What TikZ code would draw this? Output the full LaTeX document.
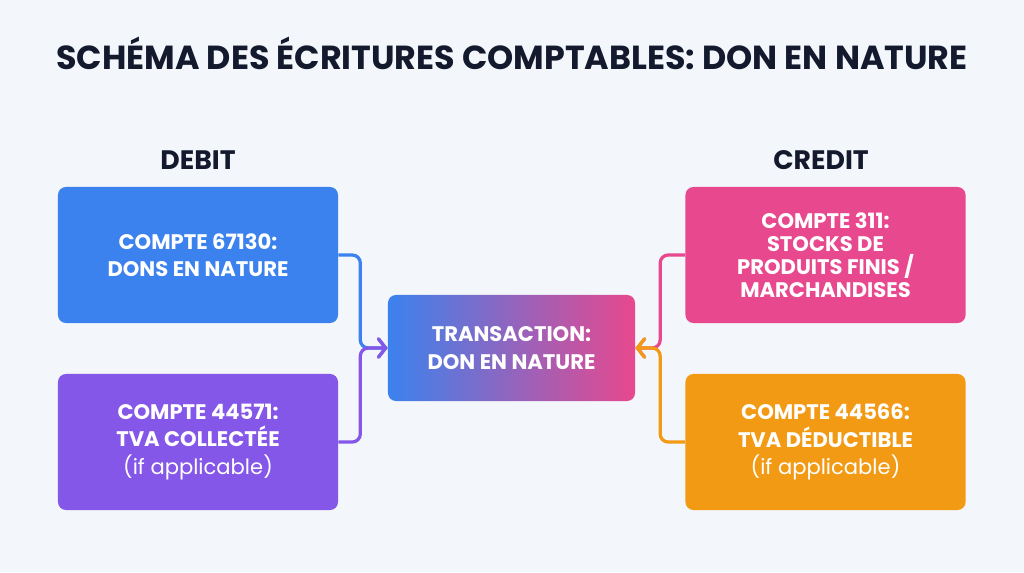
\documentclass[tikz,border=0pt]{standalone}
\usepackage{fontspec}
\setmainfont{Poppins}
\usetikzlibrary{arrows.meta}

\definecolor{bgcol}{HTML}{F3F6FA}
\definecolor{titlecol}{HTML}{141A2E}
\definecolor{blueacc}{HTML}{3B82EE}
\definecolor{purpleacc}{HTML}{8557E8}
\definecolor{pinkacc}{HTML}{E8488E}
\definecolor{orangeacc}{HTML}{F39A14}

\tikzset{
  acct/.style={rounded corners=0.2cm, minimum width=7cm, minimum height=3.4cm,
    text=white, align=center, font=\fontsize{15}{19.5}\selectfont\bfseries},
  conn/.style={line width=2.3pt, rounded corners=0.2cm,
    -{Straight Barb[length=1.8mm,width=4.6mm,line cap=round]}},
  head/.style={text=titlecol, font=\fontsize{19}{22}\selectfont\bfseries}
}

\begin{document}
\begin{tikzpicture}[x=0.025cm,y=-0.025cm]
  \fill[bgcol] (0,0) rectangle (1024,572);
  \node[text=titlecol, font=\fontsize{23.7}{28}\selectfont\bfseries] (title) at (512,53)
    {SCHÉMA DES ÉCRITURES COMPTABLES: DON EN NATURE};
  \node[head] (debit) at (198,160) {DEBIT};
  \node[head] (credit) at (821,160) {CREDIT};
  % debit side
  \node[acct, fill=blueacc] (d1) at (198,255) {COMPTE 67130:\\DONS EN NATURE};
  \node[acct, fill=purpleacc] (d2) at (198,442)
    {COMPTE 44571:\\TVA COLLECTÉE\\{\mdseries (if applicable)}};
  % credit side
  \node[acct, fill=pinkacc, font=\fontsize{15}{16.5}\selectfont\bfseries] (c1) at (825.5,255)
    {COMPTE 311:\\STOCKS DE\\PRODUITS FINIS /\\MARCHANDISES};
  \node[acct, fill=orangeacc] (c2) at (825.5,442)
    {COMPTE 44566:\\TVA DÉDUCTIBLE\\{\mdseries (if applicable)}};
  % transaction
  \node[acct, left color=blueacc, right color=pinkacc, minimum width=6.175cm,
    minimum height=2.65cm] (tx) at (511.5,348) {TRANSACTION:\\DON EN NATURE};
  \draw[conn, blueacc] (d1.east) -- ++(22,0) |- (tx.west);
  \draw[conn, purpleacc] (d2.east) -- ++(22,0) |- (tx.west);
  \draw[conn, pinkacc] (c1.west) -- ++(-25,0) |- (tx.east);
  \draw[conn, orangeacc] (c2.west) -- ++(-25,0) |- (tx.east);
\end{tikzpicture}
\end{document}
